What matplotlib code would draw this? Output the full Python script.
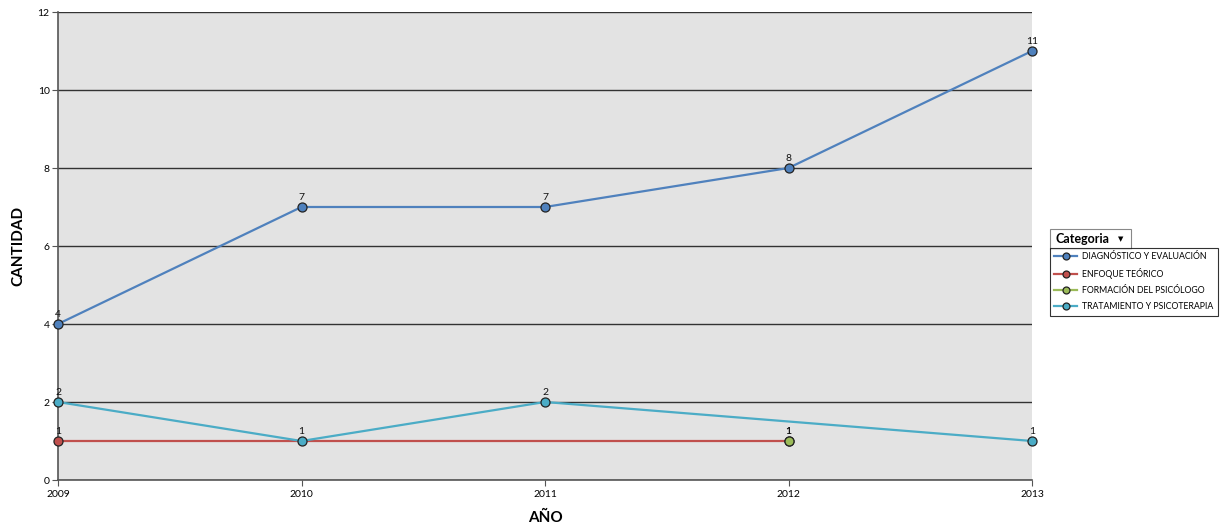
import numpy as np
import matplotlib.pyplot as plt
from matplotlib.patches import Rectangle

plt.rcParams['font.family'] = ['Lato', 'DejaVu Sans']

years = ['2009', '2010', '2011', '2012', '2013']
diagnostico = [4, 7, 7, 8, 11]
enfoque = [1, None, None, 1, None]
formacion = [None, None, None, 1, None]
tratamiento = [2, 1, 2, None, 1]

series = [
    ('DIAGNÓSTICO Y EVALUACIÓN', diagnostico, '#4F81BD'),
    ('ENFOQUE TEÓRICO', enfoque, '#C0504D'),
    ('FORMACIÓN DEL PSICÓLOGO', formacion, '#9BBB59'),
    ('TRATAMIENTO Y PSICOTERAPIA', tratamiento, '#4BACC6'),
]

fig = plt.figure(figsize=(12.23, 5.31), dpi=100)
ax = fig.add_axes([58 / 1223, 1 - 480 / 531, (1032 - 58) / 1223, (480 - 12) / 531])
ax.set_facecolor('#E3E3E3')

x = np.arange(len(years))
handles = []
for name, vals, col in series:
    xs = [i for i, v in enumerate(vals) if v is not None]
    ys = [v for v in vals if v is not None]
    h, = ax.plot(xs, ys, color=col, lw=1.6, marker='o', markersize=6.5,
                 markerfacecolor=col, markeredgecolor='#222222', markeredgewidth=0.9,
                 label=name, zorder=3, clip_on=False)
    handles.append(h)
    for xi, yi in zip(xs, ys):
        ax.text(xi, yi + 0.12, str(yi), ha='center', va='bottom', fontsize=7.5,
                color='#111111', zorder=4)

ax.set_xlim(0, 4)
ax.set_ylim(0, 12)
ax.set_xticks(x)
ax.set_xticklabels(years, fontsize=7.5)
ax.set_yticks(range(0, 13, 2))
ax.tick_params(axis='y', labelsize=7.5, length=4, color='#555555', pad=2)
ax.tick_params(axis='x', length=4, color='#555555', pad=3)
ax.grid(axis='y', color='#333333', lw=1.0, zorder=1)
ax.set_axisbelow(True)
for s in ['top', 'right']:
    ax.spines[s].set_visible(False)
for s in ['left', 'bottom']:
    ax.spines[s].set_color('#555555')
    ax.spines[s].set_linewidth(1.2)

fig.text(18 / 1223, 1 - 246 / 531, 'CANTIDAD', rotation=90, ha='center', va='center',
         fontsize=11, fontweight='bold')
fig.text(545 / 1223, 1 - 518 / 531, 'AÑO', ha='center', va='center',
         fontsize=11, fontweight='bold')

# legend
leg = fig.legend(handles=handles, loc='upper left',
                 bbox_to_anchor=(1050 / 1223, 1 - 248 / 531), fontsize=6.3,
                 frameon=True, fancybox=False, handlelength=2.6, handletextpad=0.6,
                 borderpad=0.5, labelspacing=0.8, borderaxespad=0)
leg.get_frame().set_edgecolor('#000000')
leg.get_frame().set_linewidth(0.8)
for lh in leg.legend_handles:
    lh.set_markersize(5)

fig.patches.append(Rectangle((1050 / 1223, 1 - 249 / 531), 81 / 1223, 20 / 531,
                             transform=fig.transFigure, facecolor='white',
                             edgecolor='#888888', lw=0.8))
fig.text(1055 / 1223, 1 - 239 / 531, 'Categoria', ha='left', va='center',
         fontsize=9, fontweight='bold')
fig.text(1121 / 1223, 1 - 239 / 531, '▼', ha='center', va='center',
         fontsize=5, family=['DejaVu Sans'])

fig.savefig('out.png', dpi=100)
